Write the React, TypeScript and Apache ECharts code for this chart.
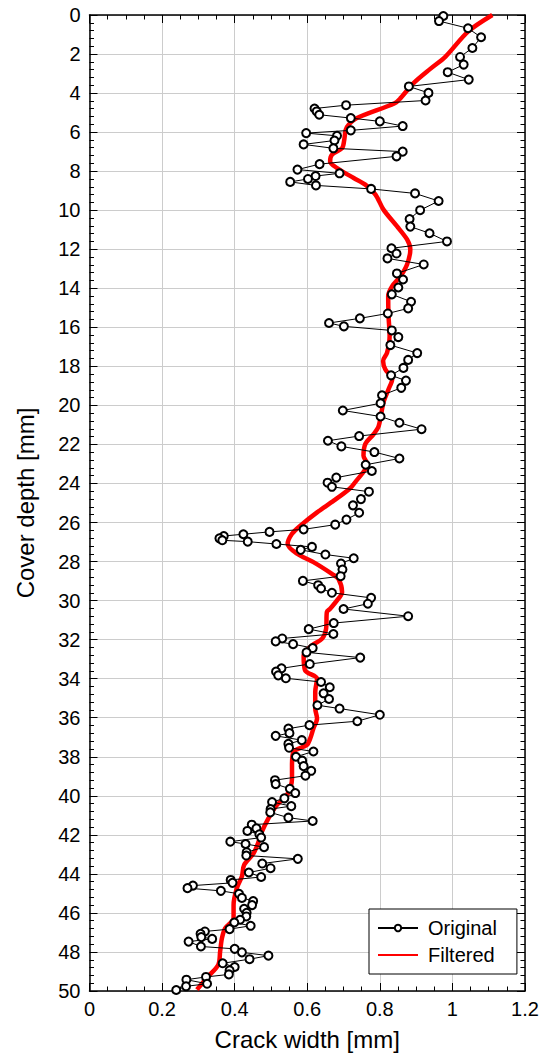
import React, { useEffect, useRef } from "react";
import * as echarts from "echarts";

// Measured crack width along the cover depth (raw readings)
const originalDepth = [
  0.05, 0.31, 0.68, 1.14, 1.69, 2.15, 2.54, 2.93, 3.31, 3.66, 3.99, 4.38, 4.62, 4.79, 4.94, 5.11,
  5.28, 5.45, 5.69, 5.91, 6.05, 6.19, 6.43, 6.63, 6.83, 7.0, 7.24, 7.64, 7.92, 8.11, 8.25, 8.4,
  8.55, 8.73, 8.91, 9.14, 9.53, 10.0, 10.45, 10.84, 11.18, 11.6, 11.95, 12.22, 12.47, 12.78, 13.24,
  13.55, 13.96, 14.31, 14.69, 15.03, 15.29, 15.54, 15.78, 15.95, 16.16, 16.5, 16.91, 17.32, 17.67,
  18.08, 18.46, 18.73, 19.1, 19.48, 19.89, 20.26, 20.57, 20.89, 21.22, 21.57, 21.81, 22.1, 22.39,
  22.72, 23.04, 23.36, 23.7, 23.96, 24.17, 24.42, 24.8, 25.12, 25.5, 25.85, 26.11, 26.35, 26.48,
  26.6, 26.69, 26.81, 26.91, 26.98, 27.1, 27.25, 27.4, 27.64, 27.83, 28.1, 28.41, 28.75, 28.99,
  29.21, 29.38, 29.6, 29.86, 30.16, 30.43, 30.8, 31.15, 31.46, 31.71, 31.94, 32.09, 32.23, 32.43,
  32.65, 32.92, 33.25, 33.47, 33.64, 33.83, 33.98, 34.17, 34.44, 34.75, 35.04, 35.36, 35.53, 35.85,
  36.18, 36.38, 36.56, 36.79, 36.93, 37.15, 37.34, 37.54, 37.73, 38.0, 38.2, 38.48, 38.72, 38.97,
  39.2, 39.4, 39.64, 39.86, 40.13, 40.32, 40.53, 40.68, 40.85, 41.12, 41.29, 41.48, 41.67, 41.8,
  41.97, 42.14, 42.35, 42.47, 42.63, 42.89, 43.06, 43.23, 43.47, 43.71, 43.93, 44.16, 44.31, 44.46,
  44.6, 44.73, 44.87, 45.02, 45.23, 45.39, 45.6, 45.79, 45.99, 46.18, 46.35, 46.49, 46.66, 46.83,
  46.95, 47.07, 47.24, 47.33, 47.47, 47.72, 47.84, 48.02, 48.19, 48.37, 48.58, 48.77, 48.94, 49.15,
  49.28, 49.42, 49.63, 49.76, 49.95,
];
const originalWidth = [
  0.975, 0.963, 1.043, 1.079, 1.055, 1.021, 1.031, 0.987, 1.045, 0.88, 0.934, 0.926, 0.707, 0.62,
  0.626, 0.633, 0.72, 0.8, 0.863, 0.72, 0.597, 0.682, 0.675, 0.59, 0.672, 0.863, 0.846, 0.634,
  0.573, 0.689, 0.623, 0.602, 0.553, 0.624, 0.776, 0.897, 0.962, 0.911, 0.882, 0.884, 0.937, 0.985,
  0.832, 0.846, 0.821, 0.921, 0.847, 0.864, 0.851, 0.833, 0.886, 0.878, 0.822, 0.745, 0.66, 0.701,
  0.833, 0.851, 0.829, 0.903, 0.878, 0.865, 0.831, 0.872, 0.859, 0.806, 0.802, 0.698, 0.802, 0.854,
  0.915, 0.743, 0.657, 0.694, 0.785, 0.854, 0.761, 0.778, 0.68, 0.656, 0.668, 0.77, 0.748, 0.726,
  0.743, 0.708, 0.677, 0.59, 0.496, 0.424, 0.37, 0.358, 0.366, 0.436, 0.515, 0.613, 0.582, 0.65,
  0.728, 0.693, 0.697, 0.692, 0.588, 0.63, 0.638, 0.668, 0.776, 0.767, 0.7, 0.878, 0.673, 0.604,
  0.672, 0.531, 0.513, 0.561, 0.615, 0.598, 0.746, 0.607, 0.529, 0.514, 0.52, 0.541, 0.638, 0.662,
  0.645, 0.66, 0.628, 0.689, 0.8, 0.738, 0.606, 0.548, 0.551, 0.513, 0.585, 0.548, 0.55, 0.617,
  0.569, 0.586, 0.59, 0.611, 0.595, 0.511, 0.513, 0.552, 0.567, 0.537, 0.503, 0.556, 0.499, 0.498,
  0.548, 0.615, 0.447, 0.46, 0.435, 0.468, 0.473, 0.388, 0.43, 0.481, 0.433, 0.432, 0.574, 0.476,
  0.499, 0.439, 0.473, 0.389, 0.394, 0.285, 0.27, 0.362, 0.412, 0.42, 0.451, 0.448, 0.426, 0.433,
  0.432, 0.415, 0.399, 0.444, 0.386, 0.318, 0.306, 0.308, 0.338, 0.273, 0.307, 0.4, 0.42, 0.493,
  0.441, 0.367, 0.4, 0.386, 0.384, 0.321, 0.267, 0.324, 0.266, 0.239,
];

// Filtered (smoothed) profile
const filteredDepth = [
  0, 0.85, 2.13, 2.76, 3.49, 4.26, 4.52, 5.28, 5.62, 5.88, 6.39, 6.82, 7.16, 7.5, 7.84, 8.35, 8.69,
  9.2, 9.97, 10.82, 11.5, 12.01, 12.78, 13.38, 13.89, 14.4, 15.42, 16.45, 17.3, 17.72, 18.15, 18.66,
  19.17, 19.85, 21.05, 21.47, 21.98, 22.58, 23.0, 23.94, 24.28, 24.88, 25.48, 26.16, 26.58, 27.1,
  27.6, 28.03, 28.63, 28.89, 29.57, 29.99, 30.42, 30.59, 31.44, 31.95, 32.3, 32.8, 33.57, 34.0,
  34.68, 35.53, 36.04, 36.55, 37.07, 37.4, 37.75, 38.43, 39.11, 39.96, 40.48, 41.16, 41.84, 42.35,
  42.95, 43.54, 44.13, 44.73, 45.59, 46.27, 46.78, 47.29, 47.97, 48.65, 49.33, 49.93,
];
const filteredWidth = [
  1.11, 1.043, 0.981, 0.939, 0.893, 0.857, 0.841, 0.737, 0.714, 0.706, 0.702, 0.696, 0.668, 0.663,
  0.682, 0.728, 0.76, 0.788, 0.81, 0.847, 0.875, 0.884, 0.875, 0.857, 0.834, 0.823, 0.824, 0.827,
  0.82, 0.809, 0.815, 0.834, 0.824, 0.81, 0.797, 0.783, 0.76, 0.755, 0.765, 0.732, 0.716, 0.673,
  0.627, 0.581, 0.558, 0.546, 0.572, 0.617, 0.668, 0.686, 0.696, 0.682, 0.663, 0.654, 0.652, 0.641,
  0.613, 0.59, 0.594, 0.627, 0.622, 0.622, 0.627, 0.617, 0.608, 0.599, 0.562, 0.558, 0.558, 0.544,
  0.516, 0.493, 0.475, 0.466, 0.452, 0.426, 0.42, 0.406, 0.397, 0.397, 0.374, 0.365, 0.36, 0.355,
  0.323, 0.296,
];

// Axis ranges and tick steps
const xRange = [0, 1.2];
const xStep = 0.2;
const yRange = [0, 50];
const yStep = 2;

const FONT = "'Liberation Sans', Arial, Helvetica, sans-serif";

function axisCommon(min: number, max: number, step: number, minorSplit: number) {
  return {
    type: "value" as const,
    min,
    max,
    interval: step,
    axisLine: { show: true, onZero: false, lineStyle: { color: "#000", width: 1.5 } },
    axisTick: { show: true, inside: true, length: 8, lineStyle: { color: "#000", width: 1 } },
    minorTick: {
      show: true,
      splitNumber: minorSplit,
      length: 4.5,
      lineStyle: { color: "#000", width: 1 },
    },
  };
}

export default function App() {
  const ref = useRef<HTMLDivElement>(null);

  useEffect(() => {
    if (!ref.current) return;
    const chart = echarts.init(ref.current, undefined, { renderer: "svg" });

    const originalData = originalDepth.map((d, i) => [originalWidth[i], d]);
    const filteredData = filteredDepth.map((d, i) => [filteredWidth[i], d]);

    chart.setOption({
      animation: false,
      backgroundColor: "#fff",
      textStyle: { fontFamily: FONT },
      grid: { left: 89.5, right: 21, top: 15, bottom: 63 },
      legend: {
        orient: "vertical",
        left: 369,
        top: 909,
        backgroundColor: "#fff",
        borderColor: "#000",
        borderWidth: 1,
        borderRadius: 0,
        padding: [7, 20, 7, 8],
        itemWidth: 40,
        itemHeight: 8,
        itemGap: 3,
        textStyle: {
          fontFamily: FONT,
          fontSize: 20,
          color: "#000",
          lineHeight: 24,
          padding: [0, 0, 0, 5],
        },
        data: [
          { name: "Original" },
          { name: "Filtered", itemStyle: { opacity: 0 } },
        ],
      },
      xAxis: [
        {
          ...axisCommon(xRange[0], xRange[1], xStep, 4),
          position: "bottom",
          name: "Crack width [mm]",
          nameLocation: "middle",
          nameGap: 36,
          nameTextStyle: { fontFamily: FONT, fontSize: 24, color: "#000" },
          axisLabel: { fontFamily: FONT, fontSize: 20, color: "#000", margin: 8 },
          splitLine: { show: true, lineStyle: { color: "#cccccc", width: 1 } },
        },
        {
          ...axisCommon(xRange[0], xRange[1], xStep, 4),
          position: "top",
          axisLabel: { show: false },
          splitLine: { show: false },
        },
      ],
      yAxis: [
        {
          ...axisCommon(yRange[0], yRange[1], yStep, 5),
          inverse: true,
          position: "left",
          name: "Cover depth [mm]",
          nameLocation: "middle",
          nameGap: 52,
          nameTextStyle: { fontFamily: FONT, fontSize: 24, color: "#000" },
          axisLabel: { fontFamily: FONT, fontSize: 20, color: "#000", margin: 9 },
          splitLine: { show: true, lineStyle: { color: "#cccccc", width: 1 } },
        },
        {
          ...axisCommon(yRange[0], yRange[1], yStep, 5),
          inverse: true,
          position: "right",
          axisLabel: { show: false },
          splitLine: { show: false },
        },
      ],
      series: [
        {
          name: "Filtered",
          type: "line",
          xAxisIndex: 0,
          yAxisIndex: 0,
          data: filteredData,
          showSymbol: false,
          symbol: "none",
          smooth: 0.3,
          lineStyle: { color: "#ff0000", width: 4.5 },
          itemStyle: { color: "#ff0000" },
          z: 2,
        },
        {
          name: "Original",
          type: "line",
          xAxisIndex: 0,
          yAxisIndex: 0,
          data: originalData,
          symbol: "circle",
          symbolSize: 8,
          showSymbol: true,
          lineStyle: { color: "#000", width: 1 },
          itemStyle: { color: "#fff", borderColor: "#000", borderWidth: 2 },
          z: 3,
        },
      ],
    });

    return () => chart.dispose();
  }, []);

  return (
    <div
      ref={ref}
      style={{ position: "absolute", left: 0, top: 0, width: 546, height: 1056 }}
    />
  );
}
